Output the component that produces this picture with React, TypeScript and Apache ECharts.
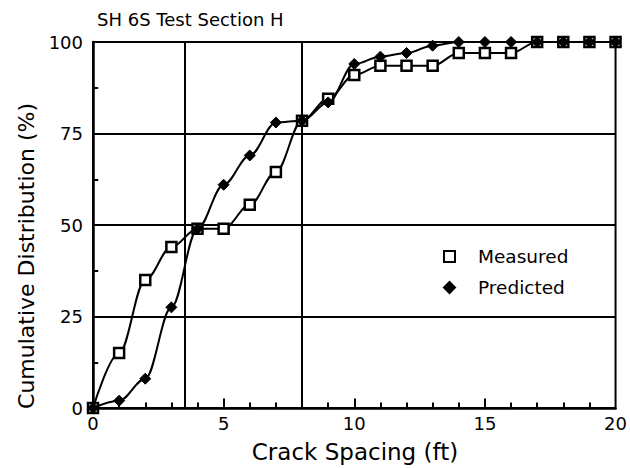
import React, { useEffect, useRef } from "react";
import * as echarts from "echarts";

const spacing = [0, 1, 2, 3, 4, 5, 6, 7, 8, 9, 10, 11, 12, 13, 14, 15, 16, 17, 18, 19, 20];
const measured = [0, 15, 35, 44, 49, 49, 55.5, 64.5, 78.5, 84.5, 91, 93.5, 93.5, 93.5, 97, 97, 97, 100, 100, 100, 100];
const predicted = [0, 2, 8, 27.5, 49, 61, 69, 78, 78.5, 83.5, 94, 96, 97, 99, 100, 100, 100, 100, 100, 100, 100];
const xTicks = [0, 5, 10, 15, 20];
const yTicks = [0, 25, 50, 75, 100];
const verticalGrid = [3.5, 8];
const xMinorTicks = [1, 2, 3, 4, 6, 7, 8, 9, 11, 12, 13, 14, 16, 17, 18, 19];
const xMajorTicks = [5, 10, 15];
const yMinorTicks = [12.5, 37.5, 62.5, 87.5];

const FONT = "DejaVu Sans";

const X_MIN = xTicks[0];
const X_MAX = xTicks[xTicks.length - 1];
const Y_MIN = yTicks[0];
const Y_MAX = yTicks[yTicks.length - 1];

// tick lengths in data units (inward ticks)
const MINOR_TICK_Y = 1.5;
const MAJOR_TICK_Y = 2.6;
const Y_TICK_X = 0.2;

export default function App() {
  const ref = useRef<HTMLDivElement>(null);
  useEffect(() => {
    if (!ref.current) return;
    const chart = echarts.init(ref.current, null, { renderer: "svg" });
    const tickSegments: any[] = [
      ...xMinorTicks.map((x) => [{ coord: [x, Y_MIN] }, { coord: [x, Y_MIN + MINOR_TICK_Y] }]),
      ...xMajorTicks.map((x) => [{ coord: [x, Y_MIN] }, { coord: [x, Y_MIN + MAJOR_TICK_Y] }]),
      ...yMinorTicks.map((y) => [{ coord: [X_MIN, y] }, { coord: [X_MIN + Y_TICK_X, y] }]),
    ];
    chart.setOption({
      animation: false,
      backgroundColor: "#ffffff",
      grid: {
        left: 93,
        right: 13,
        top: 42,
        bottom: 60,
        show: true,
        borderColor: "#000",
        borderWidth: 2,
        backgroundColor: "transparent",
      },
      xAxis: {
        type: "value",
        min: X_MIN,
        max: X_MAX,
        interval: 5,
        axisLine: { show: true, onZero: false, lineStyle: { color: "#000", width: 2.5 } },
        axisTick: { show: false },
        splitLine: { show: false },
        axisLabel: { color: "#000", fontSize: 18, fontFamily: FONT, margin: 6 },
      },
      yAxis: {
        type: "value",
        min: Y_MIN,
        max: Y_MAX,
        interval: 25,
        axisLine: { show: true, onZero: false, lineStyle: { color: "#000", width: 2.5 } },
        axisTick: { show: false },
        splitLine: { show: true, lineStyle: { color: "#000", width: 2 } },
        axisLabel: { color: "#000", fontSize: 18, fontFamily: FONT, margin: 10 },
      },
      legend: {
        orient: "vertical",
        left: 438,
        top: 242,
        itemGap: 12,
        itemWidth: 11,
        itemHeight: 11,
        textStyle: { color: "#000", fontSize: 18.5, fontFamily: FONT, padding: [0, 0, 0, 18] },
        data: [
          { name: "Measured", icon: "rect" },
          { name: "Predicted", icon: "diamond" },
        ],
      },
      graphic: [
        {
          type: "text",
          left: 97,
          top: 10,
          style: { text: "SH 6S Test Section H", fill: "#000", font: `18px "${FONT}"` },
        },
        {
          type: "text",
          x: 26,
          y: 256,
          rotation: Math.PI / 2,
          style: {
            text: "Cumulative Distribution (%)",
            fill: "#000",
            font: `22px "${FONT}"`,
            align: "center",
            verticalAlign: "middle",
          },
        },
        {
          type: "text",
          x: 355,
          y: 452,
          style: {
            text: "Crack Spacing (ft)",
            fill: "#000",
            font: `23px "${FONT}"`,
            align: "center",
            verticalAlign: "middle",
          },
        },
      ],
      series: [
        {
          name: "Measured",
          type: "line",
          smooth: 0.35,
          smoothMonotone: "x",
          data: spacing.map((x, i) => [x, measured[i]]),
          symbol: "rect",
          symbolSize: 10,
          lineStyle: { color: "#000", width: 2 },
          itemStyle: { color: "#fff", borderColor: "#000", borderWidth: 2.5 },
          z: 3,
          markLine: {
            silent: true,
            symbol: "none",
            label: { show: false },
            lineStyle: { color: "#000", width: 2, type: "solid" },
            data: [...verticalGrid.map((v) => ({ xAxis: v })), ...tickSegments],
          },
        },
        {
          name: "Predicted",
          type: "line",
          smooth: 0.35,
          smoothMonotone: "x",
          data: spacing.map((x, i) => [x, predicted[i]]),
          symbol: "diamond",
          symbolSize: 11,
          lineStyle: { color: "#000", width: 2 },
          itemStyle: { color: "#000", borderColor: "#000", borderWidth: 1 },
          z: 4,
        },
      ],
    });
    return () => chart.dispose();
  }, []);
  return <div ref={ref} style={{ width: 630, height: 468, position: "fixed", left: 0, top: 0 }} />;
}
